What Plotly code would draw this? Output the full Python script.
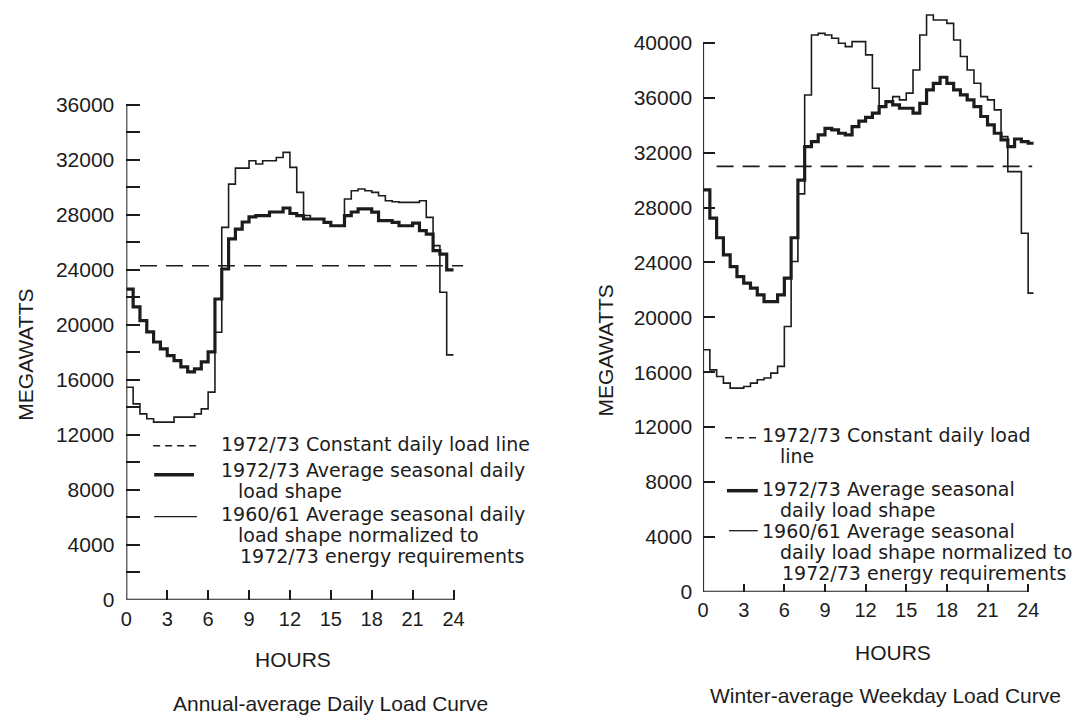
import plotly.graph_objects as go

# ---------------- data ----------------
HALF_HOURS = [0.0, 0.5, 1.0, 1.5, 2.0, 2.5, 3.0, 3.5, 4.0, 4.5, 5.0, 5.5,
              6.0, 6.5, 7.0, 7.5, 8.0, 8.5, 9.0, 9.5, 10.0, 10.5, 11.0, 11.5,
              12.0, 12.5, 13.0, 13.5, 14.0, 14.5, 15.0, 15.5, 16.0, 16.5, 17.0, 17.5,
              18.0, 18.5, 19.0, 19.5, 20.0, 20.5, 21.0, 21.5, 22.0, 22.5, 23.0, 23.5]
ANNUAL_END_HOUR = 24.0
WINTER_END_HOUR = 24.4

# Annual-average daily load curve (MW)
ANNUAL_1972_73 = [22600, 21300, 20300, 19480, 18750, 18250, 17760, 17400, 16940, 16570, 16790, 17300,
                  18030, 21880, 24060, 26250, 26970, 27480, 27850, 27940, 27940, 28210, 28210, 28500,
                  28100, 27940, 27700, 27700, 27700, 27450, 27210, 27210, 27940, 28210, 28430, 28430,
                  28200, 27580, 27580, 27450, 27210, 27210, 27400, 26850, 26600, 25400, 25150, 24000]
ANNUAL_1960_61 = [15460, 14250, 13520, 13160, 12920, 12920, 12920, 13280, 13280, 13280, 13520, 13880,
                  15100, 19460, 27090, 30240, 31400, 31400, 31940, 31700, 31940, 31940, 32180, 32550,
                  31460, 29640, 27950, 27700, 27700, 27450, 27210, 27210, 29150, 29760, 29880, 29760,
                  29640, 29390, 29030, 28950, 28910, 28910, 28910, 29030, 27820, 25760, 22370, 17810]
ANNUAL_CONSTANT = 24300
ANNUAL_CONSTANT_SPAN = [1.0, 24.7]

# Winter-average weekday load curve (MW)
WINTER_1972_73 = [29290, 27230, 25800, 24550, 23700, 22970, 22490, 22130, 21640, 21150, 21150, 21640,
                  22860, 25800, 30000, 32450, 32810, 33300, 33780, 33660, 33420, 33300, 33900, 34300,
                  34570, 34880, 35360, 35720, 35480, 35240, 35240, 34880, 35600, 36580, 37060, 37500,
                  37060, 36580, 36210, 35850, 35360, 34640, 34030, 33420, 32930, 32450, 33000, 32810]
WINTER_1960_61 = [17630, 16170, 15690, 15200, 14840, 14840, 14960, 15200, 15450, 15570, 15930, 16420,
                  19330, 24070, 29000, 36210, 40580, 40700, 40580, 40340, 39980, 39730, 40100, 40100,
                  39130, 36700, 35360, 35720, 36090, 35850, 36340, 38030, 40580, 42040, 41680, 41680,
                  41430, 40220, 39010, 38030, 37060, 36090, 35850, 35120, 33170, 30620, 30620, 26130]
WINTER_LAST_STEP_1972_73 = 32690
WINTER_LAST_STEP_1960_61 = 21760
WINTER_CONSTANT = 31000
WINTER_CONSTANT_SPAN = [1.0, 24.3]

HOUR_TICKS = [0, 3, 6, 9, 12, 15, 18, 21, 24]
ANNUAL_MW_TICKS = [0, 4000, 8000, 12000, 16000, 20000, 24000, 28000, 32000, 36000]
WINTER_MW_TICKS = [0, 4000, 8000, 12000, 16000, 20000, 24000, 28000, 32000, 36000, 40000]

# ---------------- styling ----------------
W, H = 1075, 716
Y_FIX = 1.015          # small vertical correction measured on the rendered page
INK = "#1c1c1c"
FONT = "Liberation Sans"
LEG_FONT = "DejaVu Sans"


def px(x):
    return x / W


def py(y):
    return max(0.0, min(1.0, 1 - (y * Y_FIX) / H))


def steps(hours, values, end_hour, last=None):
    if last is None:
        return list(hours) + [end_hour], list(values) + [values[-1]]
    return list(hours) + [24.0, end_hour], list(values) + [last, last]


fig = go.Figure()

# Left chart
x, y = steps(HALF_HOURS, ANNUAL_1960_61, ANNUAL_END_HOUR)
fig.add_trace(go.Scatter(x=x, y=y, mode="lines", line=dict(color=INK, width=1.6, shape="hv"),
                         xaxis="x", yaxis="y", showlegend=False))
x, y = steps(HALF_HOURS, ANNUAL_1972_73, ANNUAL_END_HOUR)
fig.add_trace(go.Scatter(x=x, y=y, mode="lines", line=dict(color=INK, width=3.2, shape="hv"),
                         xaxis="x", yaxis="y", showlegend=False))
fig.add_trace(go.Scatter(x=ANNUAL_CONSTANT_SPAN, y=[ANNUAL_CONSTANT] * 2, mode="lines",
                         line=dict(color=INK, width=1.6, dash="17px,9px"),
                         xaxis="x", yaxis="y", showlegend=False))

# Right chart
x, y = steps(HALF_HOURS, WINTER_1960_61, WINTER_END_HOUR, WINTER_LAST_STEP_1960_61)
fig.add_trace(go.Scatter(x=x, y=y, mode="lines", line=dict(color=INK, width=1.6, shape="hv"),
                         xaxis="x2", yaxis="y2", showlegend=False))
x, y = steps(HALF_HOURS, WINTER_1972_73, WINTER_END_HOUR, WINTER_LAST_STEP_1972_73)
fig.add_trace(go.Scatter(x=x, y=y, mode="lines", line=dict(color=INK, width=3.2, shape="hv"),
                         xaxis="x2", yaxis="y2", showlegend=False))
fig.add_trace(go.Scatter(x=WINTER_CONSTANT_SPAN, y=[WINTER_CONSTANT] * 2, mode="lines",
                         line=dict(color=INK, width=1.6, dash="17px,9px"),
                         xaxis="x2", yaxis="y2", showlegend=False))

xtickfont = dict(family=FONT, size=20, color=INK)
ytickfont = dict(family=FONT, size=21, color=INK)
common_x = dict(range=[0, 25], tickmode="array", tickvals=HOUR_TICKS, ticks="inside",
                tickwidth=1.6, tickcolor=INK, showline=False, showgrid=False, zeroline=False,
                tickfont=xtickfont, fixedrange=True)
common_y = dict(tickmode="array", ticks="inside", tickformat="d", tickwidth=1.6, tickcolor=INK,
                showline=False, showgrid=False, zeroline=False, tickfont=ytickfont, fixedrange=True)

L_X0, L_PPH = 121, 13.71
L_Y0, L_PPU = 600, 0.01375
R_X0, R_PPH = 701, 13.62
R_Y0, R_PPU = 592, 0.013725

fig.update_layout(
    width=W, height=H, margin=dict(l=0, r=0, t=0, b=0),
    paper_bgcolor="white", plot_bgcolor="white",
    xaxis=dict(domain=[px(L_X0), px(L_X0 + L_PPH * 25)], anchor="y", ticklen=10,
               ticklabelstandoff=5, **common_x),
    yaxis=dict(domain=[py(L_Y0), py(L_Y0 - 37000 * L_PPU)], anchor="x", range=[0, 37000],
               tickvals=ANNUAL_MW_TICKS, ticklen=14, ticklabelstandoff=11,
               minor=dict(tick0=0, dtick=2000, ticks="inside", ticklen=14, tickwidth=1.6,
                          tickcolor=INK, showgrid=False), **common_y),
    xaxis2=dict(domain=[px(R_X0), px(R_X0 + R_PPH * 25)], anchor="y2", ticklen=8,
                ticklabelstandoff=4, **common_x),
    yaxis2=dict(domain=[py(R_Y0), py(R_Y0 - 43000 * R_PPU)], anchor="x2", range=[0, 43000],
                tickvals=WINTER_MW_TICKS, ticklen=12, ticklabelstandoff=10, **common_y),
)

# axis lines (ending at the last labelled tick, as in the original)
axis_line = dict(color=INK, width=2)
fig.add_shape(type="line", xref="x", yref="y", x0=0, x1=0, y0=0, y1=ANNUAL_MW_TICKS[-1], line=axis_line)
fig.add_shape(type="line", xref="x", yref="y", x0=0, x1=HOUR_TICKS[-1], y0=0, y1=0, line=axis_line)
fig.add_shape(type="line", xref="x2", yref="y2", x0=0, x1=0, y0=0, y1=WINTER_MW_TICKS[-1], line=axis_line)
fig.add_shape(type="line", xref="x2", yref="y2", x0=0, x1=HOUR_TICKS[-1], y0=0, y1=0, line=axis_line)

txt = dict(family=FONT, size=21, color=INK)
leg = dict(family=LEG_FONT, size=19, color=INK)


def note(xp, yp, text, font, xanchor="center", angle=0):
    fig.add_annotation(x=px(xp), y=py(yp), xref="paper", yref="paper", text=text, showarrow=False,
                       xanchor=xanchor, yanchor="middle", font=font, textangle=angle, borderpad=0)


# axis titles and captions
note(20, 355, "MEGAWATTS", txt, angle=-90)
note(603, 351, "MEGAWATTS", txt, angle=-90)
note(289, 660, "HOURS", txt)
note(892, 653, "HOURS", txt)
note(326, 704, "Annual-average Daily Load Curve", txt)
note(884, 696, "Winter-average Weekday Load Curve", txt)

# legend - left chart
for xp, yp, t in [(215, 444, "1972/73 Constant daily load line"),
                  (215, 470, "1972/73 Average seasonal daily"),
                  (232, 491, "load shape"),
                  (215, 514, "1960/61 Average seasonal daily"),
                  (232, 535, "load shape normalized to"),
                  (234, 556, "1972/73 energy requirements")]:
    note(xp, yp, t, leg, xanchor="left")

# legend - right chart
for xp, yp, t in [(759, 435, "1972/73 Constant daily load"),
                  (777, 456, "line"),
                  (759, 489, "1972/73 Average seasonal"),
                  (777, 510, "daily load shape"),
                  (759, 531, "1960/61 Average seasonal"),
                  (777, 552, "daily load shape normalized to"),
                  (779, 573, "1972/73 energy requirements")]:
    note(xp, yp, t, leg, xanchor="left")


# legend line samples
def sample(x0, x1, yv, width, dash=None):
    fig.add_shape(type="line", xref="paper", yref="paper", x0=px(x0), x1=px(x1), y0=py(yv), y1=py(yv),
                  line=dict(color=INK, width=width, dash=dash))


sample(148, 192, 446, 1.6, "7px,5px")
sample(149, 189, 475, 3.5)
sample(149, 192, 517, 1.3)
sample(723, 756, 438, 1.6, "7px,5px")
sample(725, 756, 491, 3.5)
sample(727, 756, 531, 1.3)

fig.write_html("out.html")
